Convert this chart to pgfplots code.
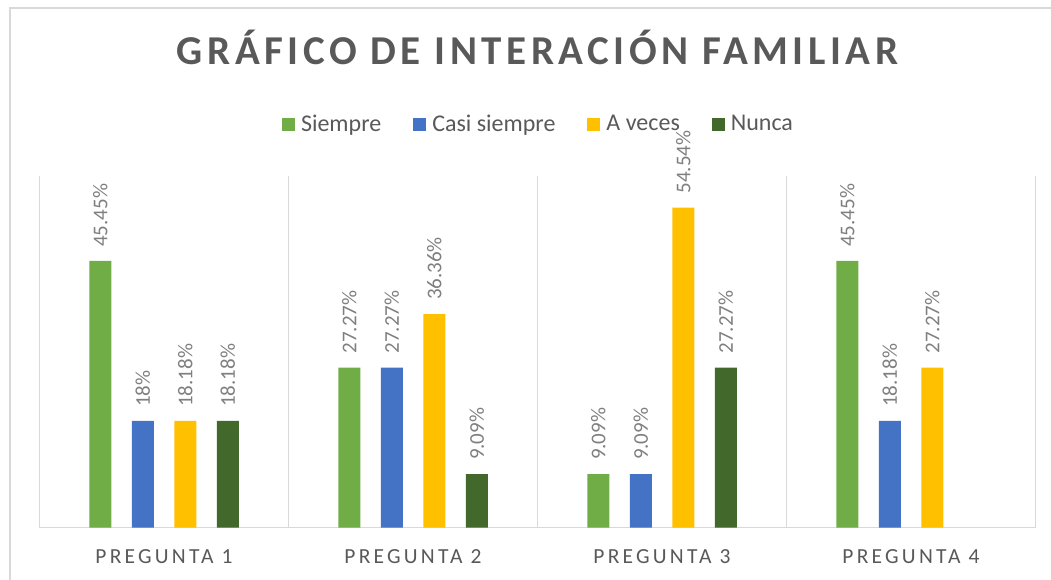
\documentclass[border=0pt]{standalone}
\usepackage{fontspec}
\setmainfont{Carlito}
\newfontfamily\titlefont{Carlito}[LetterSpace=11]
\newfontfamily\catfont{Carlito}[LetterSpace=15]
\usepackage{pgfplots}
\pgfplotsset{compat=1.18}
\definecolor{cS}{HTML}{70AD47}
\definecolor{cC}{HTML}{4472C4}
\definecolor{cA}{HTML}{FFC000}
\definecolor{cN}{HTML}{43682B}
\definecolor{gridc}{HTML}{D9D9D9}
\definecolor{textc}{HTML}{595959}
\definecolor{labc}{HTML}{7F7F7F}
\begin{document}
\begin{tikzpicture}[x=1pt,y=1pt]
\useasboundingbox (0,0) rectangle (1051,579);
\draw[gridc, line width=1.2pt] (10,-20) -- (10,571) -- (1080,571);
\begin{axis}[
  at={(39.5pt,51.5pt)}, anchor=south west,
  scale only axis, width=996pt, height=352pt,
  xmin=-0.5, xmax=3.5, ymin=0, ymax=60,
  ybar=20.5pt, bar width=22pt,
  axis y line=none,
  axis x line=bottom,
  x axis line style={-, draw=gridc, line width=1.2pt},
  xtick={0,1,2,3},
  xticklabels={PREGUNTA 1,PREGUNTA 2,PREGUNTA 3,PREGUNTA 4},
  major tick length=0pt,
  xticklabel style={font=\catfont\fontsize{21.5}{24}\selectfont, text=textc, anchor=base, yshift=-36pt},
  extra x ticks={-0.5,0.5,1.5,2.5,3.5},
  extra x tick labels={},
  extra x tick style={grid=major, major grid style={draw=gridc, line width=1.2pt}},
  point meta=explicit symbolic,
  nodes near coords,
  every node near coord/.append style={rotate=90, anchor=west, inner xsep=14pt, inner ysep=0pt,
    font=\fontsize{21}{24}\selectfont, text=labc},
  title={GRÁFICO DE INTERACIÓN FAMILIAR},
  title style={at={(0.5,1.2997)}, anchor=base, font=\titlefont\bfseries\fontsize{41}{48}\selectfont, text=textc},
  legend columns=4,
  legend style={at={(0.5,1.1463)}, anchor=center, draw=none, fill=none,
    font=\fontsize{24}{28}\selectfont, text=textc,
    nodes={inner sep=0pt},
    /tikz/every odd column/.append style={column sep=6pt},
    /tikz/every even column/.append style={column sep=32pt}},
  legend image code/.code={\fill[#1] (0pt,-6.5pt) rectangle (13pt,6.5pt);},
]
\addplot[fill=cS, draw=none] coordinates {(0,45.45) [45.45\%] (1,27.27) [27.27\%] (2,9.09) [9.09\%] (3,45.45) [45.45\%]};
\addplot[fill=cC, draw=none] coordinates {(0,18.18) [18\%] (1,27.27) [27.27\%] (2,9.09) [9.09\%] (3,18.18) [18.18\%]};
\addplot[fill=cA, draw=none] coordinates {(0,18.18) [18.18\%] (1,36.36) [36.36\%] (2,54.54) [54.54\%] (3,27.27) [27.27\%]};
\addplot[fill=cN, draw=none] coordinates {(0,18.18) [18.18\%] (1,9.09) [9.09\%] (2,27.27) [27.27\%]};
\legend{Siempre,Casi siempre,A veces,Nunca}
\end{axis}
\end{tikzpicture}
\end{document}
